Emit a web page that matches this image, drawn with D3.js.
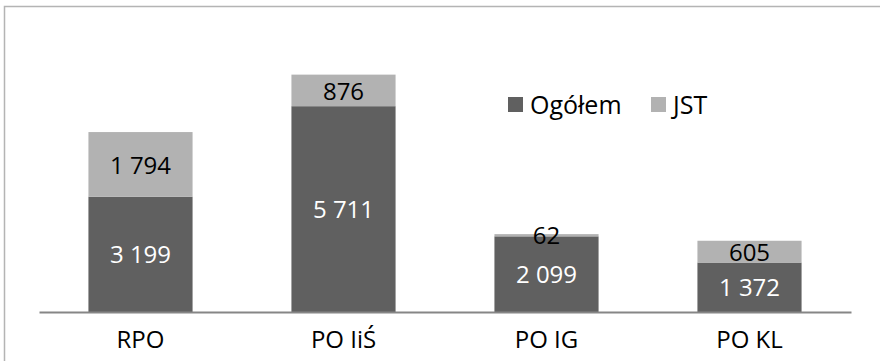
<!DOCTYPE html>
<html>
<head>
<meta charset="utf-8">
<script src="https://cdn.jsdelivr.net/npm/d3@7"></script>
<style>
  html, body { margin: 0; padding: 0; background: #fff; }
  svg { display: block; }
  text { font-family: "Open Sans", "Noto Sans", sans-serif; }
</style>
</head>
<body>
<svg id="chart" width="880" height="361"></svg>
<script>
// Programme categories and stacked series values
const categories = ["RPO", "PO IiŚ", "PO IG", "PO KL"];
const ogolem = [3199, 5711, 2099, 1372];
const jst = [1794, 876, 62, 605];
const seriesNames = ["Ogółem", "JST"];
const seriesColors = ["#606060", "#b2b2b2"];
const labelColors = ["#ffffff", "#000000"];

const svg = d3.select("#chart");
const W = 880, H = 361;

// Outer frame
svg.append("rect")
  .attr("x", 4.5).attr("y", 6.5)
  .attr("width", W + 20).attr("height", H + 20)
  .attr("fill", "none").attr("stroke", "#b4b4b4").attr("stroke-width", 1.5);

const x = d3.scaleBand().domain(categories).range([39, 851]).paddingInner(0.487).paddingOuter(0.2435);
const y = d3.scaleLinear().domain([0, 8000]).range([312, 23.7]);

const rows = categories.map((c, i) => ({ cat: c, Ogółem: ogolem[i], JST: jst[i] }));
const stacked = d3.stack().keys(seriesNames)(rows);

const layers = svg.selectAll("g.layer").data(stacked).join("g")
  .attr("class", "layer")
  .attr("fill", (d, i) => seriesColors[i]);

layers.selectAll("rect").data(d => d).join("rect")
  .attr("x", d => x(d.data.cat))
  .attr("width", x.bandwidth())
  .attr("y", d => y(d[1]))
  .attr("height", d => y(d[0]) - y(d[1]));

// Value labels centred in each segment
const fmt = v => d3.format(",")(v).replace(/,/g, " ");
stacked.forEach((layer, li) => {
  svg.append("g").selectAll("text").data(layer).join("text")
    .attr("x", d => x(d.data.cat) + x.bandwidth() / 2)
    .attr("y", d => (y(d[0]) + y(d[1])) / 2)
    .attr("dy", "0.38em")
    .attr("text-anchor", "middle")
    .attr("font-size", 24)
    .attr("fill", labelColors[li])
    .text(d => fmt(d[1] - d[0]));
});

// Category axis
const axis = d3.axisBottom(x).tickSize(0).tickPadding(19);
const gx = svg.append("g").attr("transform", "translate(0,312)").call(axis);
gx.select(".domain").attr("stroke", "#868686").attr("stroke-width", 2);
gx.selectAll(".tick text")
  .attr("font-size", 24)
  .attr("fill", "#000")
  .style("font-family", "'Open Sans', 'Noto Sans', sans-serif");

// Legend
const legend = svg.append("g");
const legendX = [508, 651];
seriesNames.forEach((name, i) => {
  legend.append("rect")
    .attr("x", legendX[i]).attr("y", 97)
    .attr("width", 15).attr("height", 15)
    .attr("fill", seriesColors[i]);
  legend.append("text")
    .attr("x", legendX[i] + 22).attr("y", 105)
    .attr("dy", "0.36em")
    .attr("font-size", 25)
    .attr("fill", "#000")
    .text(name);
});
</script>
</body>
</html>
